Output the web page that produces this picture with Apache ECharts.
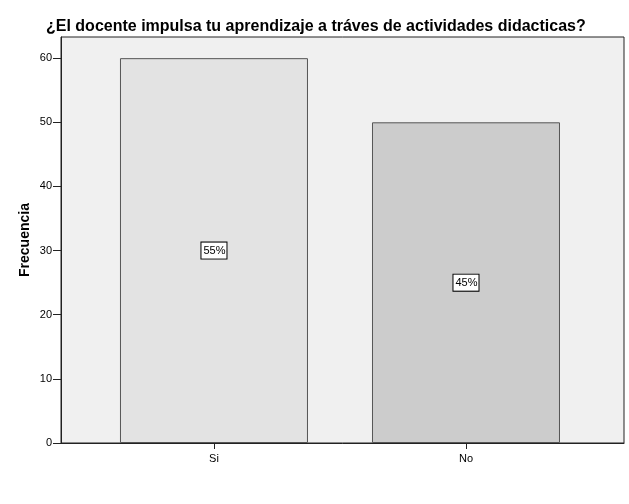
<!DOCTYPE html>
<html>
<head>
<meta charset="utf-8">
<script src="https://cdn.jsdelivr.net/npm/echarts@6/dist/echarts.min.js"></script>
<style>
html,body{margin:0;padding:0;background:#fff;}
#chart{width:629px;height:504px;}
</style>
</head>
<body>
<div id="chart"></div>
<script>
var categories = ['Si','No'];
var frecuencia = [60,50];
var porcentajes = ['55%','45%'];
var barColors = ['#E3E3E3','#CCCCCC'];
var yTicks = [0,10,20,30,40,50,60];

function init(){
	var myChart = echarts.init(document.getElementById('chart'));
	var data = frecuencia.map(function(v,i){
		return {
			value:[i,v],
			label:{formatter:porcentajes[i]},
			itemStyle:{color:barColors[i]}
		};
	});
	myChart.setOption({
		animation:false,
		backgroundColor:'#fff',
		textStyle:{fontFamily:'Liberation Sans, Arial, sans-serif'},
		title:{
			text:'¿El docente impulsa tu aprendizaje a tráves de actividades didacticas?',
			left:41,
			top:14,
			textStyle:{fontSize:16,fontWeight:'bold',color:'#000'}
		},
		grid:{
			show:true,
			left:61,
			right:5,
			top:37,
			bottom:61,
			backgroundColor:'#F0F0F0',
			borderColor:'#222',
			borderWidth:1
		},
		xAxis:{
			type:'value',
			min:-0.607,
			max:1.627,
			splitLine:{show:false},
			axisLine:{show:true,onZero:false,lineStyle:{color:'#222'}},
			axisTick:{show:true,length:6,customValues:[0,1],lineStyle:{color:'#222'}},
			axisLabel:{
				customValues:[0,1],
				color:'#000',
				fontSize:11,
				margin:10,
				formatter:function(v){return categories[Math.round(v)];}
			}
		},
		yAxis:{
			type:'value',
			min:0,
			max:63.3,
			interval:10,
			name:'Frecuencia',
			nameLocation:'middle',
			nameGap:29,
			nameMoveOverlap:false,
			nameTextStyle:{fontSize:14,fontWeight:'bold',color:'#000'},
			splitLine:{show:false},
			axisLine:{show:true,onZero:false,lineStyle:{color:'#222'}},
			axisTick:{show:true,length:8,customValues:yTicks,lineStyle:{color:'#222'}},
			axisLabel:{customValues:yTicks,color:'#000',fontSize:11,margin:9}
		},
		series:[{
			type:'bar',
			barWidth:188,
			data:data,
			itemStyle:{borderColor:'#555',borderWidth:1},
			label:{
				show:true,
				position:'inside',
				color:'#000',
				fontSize:11,
				backgroundColor:'#fff',
				borderColor:'#000',
				borderWidth:1,
				padding:[3,1,2,2]
			}
		}]
	});
}
init();
</script>
</body>
</html>
